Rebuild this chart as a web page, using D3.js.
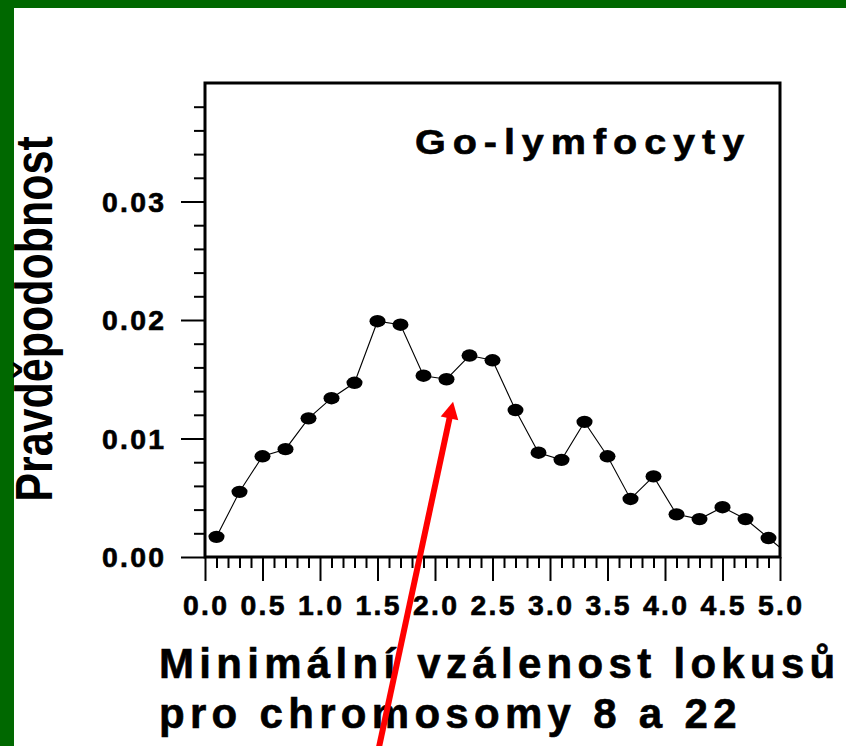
<!DOCTYPE html>
<html>
<head>
<meta charset="utf-8">
<script src="https://cdn.jsdelivr.net/npm/d3@7"></script>
<style>
  html, body { margin: 0; padding: 0; background: #ffffff; }
  svg { display: block; }
  text { font-family: "Liberation Sans", Arial, sans-serif; font-weight: bold; fill: #000; }
  text.heavy { stroke: #000; stroke-width: 0.6; }
</style>
</head>
<body>
<svg id="chart" width="846" height="746"></svg>
<script>
// Distance between loci (x) and probability (y)
const distances = [0.1, 0.3, 0.5, 0.7, 0.9, 1.1, 1.3, 1.5, 1.7, 1.9, 2.1, 2.3, 2.5,
                   2.7, 2.9, 3.1, 3.3, 3.5, 3.7, 3.9, 4.1, 4.3, 4.5, 4.7, 4.9, 5.1];
const probability = [0.0017, 0.0055, 0.0085, 0.0091, 0.0117, 0.0134, 0.0147, 0.0199,
                     0.0196, 0.0153, 0.0150, 0.0170, 0.0166, 0.0124, 0.0088, 0.0082,
                     0.0114, 0.0085, 0.0049, 0.0068, 0.0036, 0.0032, 0.0042, 0.0032,
                     0.0016, 0.0000];

const xTickValues = [0, 0.5, 1, 1.5, 2, 2.5, 3, 3.5, 4, 4.5, 5];
const xTickLabels = ["0.0", "0.5", "1.0", "1.5", "2.0", "2.5", "3.0", "3.5", "4.0", "4.5", "5.0"];
const yTickValues = [0, 0.01, 0.02, 0.03];
const yTickLabels = ["0.00", "0.01", "0.02", "0.03"];

const chartTitle = "Go-lymfocyty";
const yTitle = "Pravděpodobnost";
const xTitleLines = ["Minimální vzálenost lokusů", "pro chromosomy 8 a 22"];

// Arrow annotation, tail and head in data units
const arrowTail = [1.47, -0.0180];
const arrowHead = [2.157, 0.0131];

const svg = d3.select("#chart");
const W = 846, H = 746;

// Slide background with green frame on top and left
svg.append("rect").attr("width", W).attr("height", H).attr("fill", "#006800");
svg.append("rect").attr("x", 14).attr("y", 8).attr("width", W - 14).attr("height", H - 8).attr("fill", "#ffffff");

const plot = { left: 205, right: 780, top: 83, bottom: 557 };
const x = d3.scaleLinear().domain([0, 5]).range([plot.left, plot.right]);
const y = d3.scaleLinear().domain([0, 0.04]).range([plot.bottom, plot.top]);

// Minor and major ticks
const yMinor = d3.range(0, 0.0399, 0.002).filter(v => Math.abs(v * 100 - Math.round(v * 100)) > 1e-6);
const xMinor = d3.range(0, 5.001, 0.1).filter(v => Math.abs(v * 2 - Math.round(v * 2)) > 1e-6);

function styleTicks(g) {
  g.select(".domain").remove();
  g.selectAll("line").attr("stroke", "#000").attr("stroke-width", 2);
}
svg.append("g")
  .attr("transform", `translate(${plot.left},0)`)
  .call(d3.axisLeft(y).tickValues(yMinor).tickSize(11).tickFormat(""))
  .call(styleTicks);
svg.append("g")
  .attr("transform", `translate(${plot.left},0)`)
  .call(d3.axisLeft(y).tickValues(yTickValues).tickSize(24).tickFormat(""))
  .call(styleTicks);
svg.append("g")
  .attr("transform", `translate(0,${plot.bottom})`)
  .call(d3.axisBottom(x).tickValues(xMinor).tickSize(11).tickFormat(""))
  .call(styleTicks);
svg.append("g")
  .attr("transform", `translate(0,${plot.bottom})`)
  .call(d3.axisBottom(x).tickValues(xTickValues).tickSize(24).tickFormat(""))
  .call(styleTicks);

// Tick labels (slightly widened, spaced lettering)
const tickFont = 27, tickStretch = 1.05, tickSpacing = 2.2;
svg.append("g").selectAll("text")
  .data(yTickValues)
  .join("text")
  .attr("class", "heavy")
  .attr("text-anchor", "end")
  .attr("font-size", tickFont)
  .attr("letter-spacing", tickSpacing)
  .attr("transform", d => `translate(${164 + tickSpacing * tickStretch},${y(d) + 10}) scale(${tickStretch},1)`)
  .text((d, i) => yTickLabels[i]);

svg.append("g").selectAll("text")
  .data(xTickValues)
  .join("text")
  .attr("class", "heavy")
  .attr("text-anchor", "middle")
  .attr("font-size", tickFont)
  .attr("letter-spacing", tickSpacing)
  .attr("transform", d => `translate(${x(d) + tickSpacing * tickStretch / 2},615) scale(${tickStretch},1)`)
  .text((d, i) => xTickLabels[i]);

// Data line and markers, clipped to the plot box
svg.append("clipPath").attr("id", "plotClip")
  .append("rect")
  .attr("x", plot.left).attr("y", plot.top)
  .attr("width", plot.right - plot.left).attr("height", plot.bottom - plot.top);

const series = distances.map((d, i) => [d, probability[i]]);
const dataLayer = svg.append("g").attr("clip-path", "url(#plotClip)");
dataLayer.append("path")
  .datum(series)
  .attr("fill", "none")
  .attr("stroke", "#000")
  .attr("stroke-width", 1.1)
  .attr("d", d3.line().x(d => x(d[0])).y(d => y(d[1])));
dataLayer.selectAll("ellipse")
  .data(series)
  .join("ellipse")
  .attr("cx", d => x(d[0]))
  .attr("cy", d => y(d[1]))
  .attr("rx", 8)
  .attr("ry", 6.2)
  .attr("fill", "#000");

// Plot frame
svg.append("rect")
  .attr("x", plot.left).attr("y", plot.top)
  .attr("width", plot.right - plot.left).attr("height", plot.bottom - plot.top)
  .attr("fill", "none").attr("stroke", "#000").attr("stroke-width", 3);

// Title inside the plot
svg.append("text")
  .attr("class", "heavy")
  .attr("font-size", 36)
  .attr("letter-spacing", 6.3)
  .attr("transform", `translate(415,154) scale(1.1,1)`)
  .text(chartTitle);

// Axis titles
svg.append("text")
  .attr("text-anchor", "middle")
  .attr("font-size", 43)
  .attr("transform", `translate(52,319) scale(1.22,1) rotate(-90)`)
  .text(yTitle);

svg.append("g").selectAll("text")
  .data(xTitleLines)
  .join("text")
  .attr("class", "heavy")
  .attr("font-size", 42)
  .attr("letter-spacing", 5.3)
  .attr("transform", (d, i) => `translate(159,${678 + i * 50})`)
  .text(d => d);

// Red arrow pointing at the dip after the maximum
const p0 = [x(arrowTail[0]), y(arrowTail[1])];
const p1 = [x(arrowHead[0]), y(arrowHead[1])];
const len = Math.hypot(p1[0] - p0[0], p1[1] - p0[1]);
const ux = (p1[0] - p0[0]) / len, uy = (p1[1] - p0[1]) / len;
const headLen = 17, headHalf = 9;
const base = [p1[0] - ux * headLen, p1[1] - uy * headLen];
svg.append("line")
  .attr("x1", p0[0]).attr("y1", p0[1])
  .attr("x2", base[0] + ux * 2).attr("y2", base[1] + uy * 2)
  .attr("stroke", "#ff0000").attr("stroke-width", 6);
svg.append("path")
  .attr("fill", "#ff0000")
  .attr("d", `M${p1[0]},${p1[1]} L${base[0] - uy * headHalf},${base[1] + ux * headHalf} L${base[0] + uy * headHalf},${base[1] - ux * headHalf} Z`);
</script>
</body>
</html>
